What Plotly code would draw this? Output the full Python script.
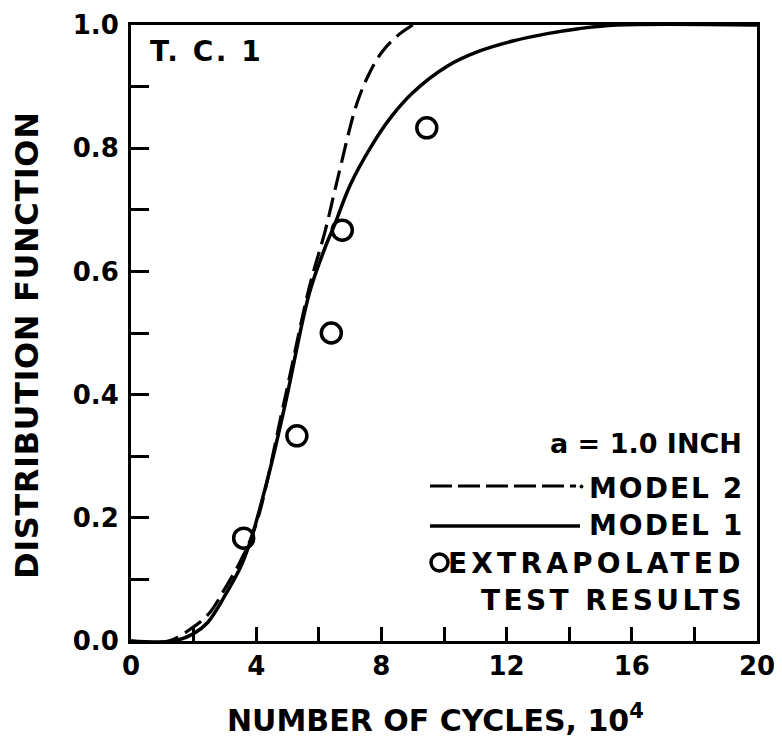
import plotly.graph_objects as go

# Model 1 (solid)
model1_x = [0, 1.35, 2.0, 2.45, 3.05, 3.5, 3.8, 4.4, 4.95, 5.7, 6.25, 6.5, 7.0, 7.7, 8.3, 9.0, 10.1, 11.1, 12.2, 13.3, 14.3, 15.5, 20]
model1_y = [0, 0, 0.012, 0.03, 0.078, 0.12, 0.16, 0.27, 0.39, 0.565, 0.645, 0.675, 0.74, 0.805, 0.85, 0.89, 0.933, 0.957, 0.974, 0.986, 0.994, 1.0, 1.0]

# Model 2 (dashed)
model2_x = [0, 1.2, 2.0, 2.5, 3.0, 3.5, 4.0, 4.9, 5.7, 6.2, 6.6, 7.2, 7.6, 8.0, 8.5, 9.0]
model2_y = [0, 0, 0.023, 0.045, 0.085, 0.13, 0.19, 0.39, 0.575, 0.665, 0.75, 0.87, 0.92, 0.955, 0.982, 1.0]

# Extrapolated test results
test_x = [3.6, 5.3, 6.4, 6.75, 9.45]
test_y = [0.167, 0.333, 0.5, 0.667, 0.833]

FONT = "DejaVu Sans"
BLACK = "#000000"

fig = go.Figure()
fig.add_trace(go.Scatter(x=model2_x, y=model2_y, mode="lines", line_shape="spline",
                         line=dict(color=BLACK, width=3.2, dash="20px,8px"), showlegend=False))
fig.add_trace(go.Scatter(x=model1_x, y=model1_y, mode="lines", line_shape="spline",
                         line=dict(color=BLACK, width=3.5), showlegend=False))
fig.add_trace(go.Scatter(x=test_x, y=test_y, mode="markers",
                         marker=dict(symbol="circle-open", size=20, color=BLACK, line=dict(width=3.5, color=BLACK)),
                         showlegend=False, cliponaxis=False))

axis_common = dict(showgrid=False, zeroline=False, showline=True, mirror=True, linecolor=BLACK, linewidth=3,
                   ticks="inside", tickcolor=BLACK, tickwidth=2.5, automargin=False,
                   tickfont=dict(family=FONT, size=26, color=BLACK, weight="bold"))

fig.update_xaxes(range=[0, 20], tickmode="linear", tick0=0, dtick=4, ticklen=14,
                 minor=dict(tick0=0, dtick=2, ticks="inside", ticklen=14, tickwidth=2.5, tickcolor=BLACK),
                 **axis_common)
fig.update_yaxes(range=[0, 1.0], tickmode="linear", tick0=0, dtick=0.2, tickformat=".1f", ticklen=18,
                 ticklabelstandoff=4,
                 minor=dict(tick0=0, dtick=0.1, ticks="inside", ticklen=18, tickwidth=2.5, tickcolor=BLACK),
                 **axis_common)

# page body has an 8px margin, so the figure starts at (8, 8) on screen
OFF = 8
W, H = 782 - OFF, 747 - OFF
L, R, T, B = 131 - OFF, 25, 25 - OFF, 106
pw, ph = W - L - R, H - T - B

def px(x):
    return (x - OFF - L) / pw

def py(y):
    return 1 - (y - OFF - T) / ph

txt = dict(family=FONT, size=28, color=BLACK, weight="bold")

def sp(s, ls):
    return '<span style="letter-spacing:%spx">%s</span>' % (ls, s)

annotations = [
    dict(text=sp("T. C. 1", 2.5), x=px(148), y=py(51), xref="paper", yref="paper", xanchor="left", yanchor="middle",
         showarrow=False, font=txt),
    dict(text="a = 1.0 INCH", x=px(744), y=py(443), xref="paper", yref="paper", xanchor="right", yanchor="middle",
         showarrow=False, font=dict(family=FONT, size=27, color=BLACK, weight="bold")),
    dict(text=sp("MODEL 2", 2), x=px(746), y=py(488), xref="paper", yref="paper", xanchor="right", yanchor="middle",
         showarrow=False, font=txt),
    dict(text=sp("MODEL 1", 2), x=px(746), y=py(525), xref="paper", yref="paper", xanchor="right", yanchor="middle",
         showarrow=False, font=txt),
    dict(text=sp("EXTRAPOLATED", 4.2), x=px(747), y=py(563), xref="paper", yref="paper", xanchor="right", yanchor="middle",
         showarrow=False, font=txt),
    dict(text=sp("TEST RESULTS", 3.4), x=px(747), y=py(600), xref="paper", yref="paper", xanchor="right", yanchor="middle",
         showarrow=False, font=txt),
    dict(text="NUMBER OF CYCLES, 10<sup>4</sup>", x=px(435), y=py(718), xref="paper", yref="paper",
         xanchor="center", yanchor="middle", showarrow=False, font=dict(family=FONT, size=30, color=BLACK, weight="bold")),
    dict(text=sp("DISTRIBUTION FUNCTION", 0.6), x=px(27), y=py(345), xref="paper", yref="paper", textangle=-90,
         xanchor="center", yanchor="middle", showarrow=False, font=dict(family=FONT, size=32, color=BLACK, weight="bold")),
]

shapes = [
    dict(type="line", xref="paper", yref="paper", x0=px(430), x1=px(576), y0=py(486), y1=py(486),
         line=dict(color=BLACK, width=3.2, dash="22px,6px")),
    dict(type="circle", xref="paper", yref="paper", x0=px(580), x1=px(583), y0=py(485), y1=py(488),
         fillcolor=BLACK, line=dict(color=BLACK, width=1)),
    dict(type="line", xref="paper", yref="paper", x0=px(430), x1=px(580), y0=py(526), y1=py(526),
         line=dict(color=BLACK, width=3.5)),
    dict(type="circle", xref="paper", yref="paper", x0=px(431), x1=px(448), y0=py(554), y1=py(571),
         line=dict(color=BLACK, width=3.5)),
]

fig.update_layout(width=W, height=H, margin=dict(l=L, r=R, t=T, b=B),
                  paper_bgcolor="white", plot_bgcolor="white",
                  font=dict(family=FONT, color=BLACK, weight="bold"),
                  annotations=annotations, shapes=shapes, showlegend=False)

fig.write_html("out.html")
